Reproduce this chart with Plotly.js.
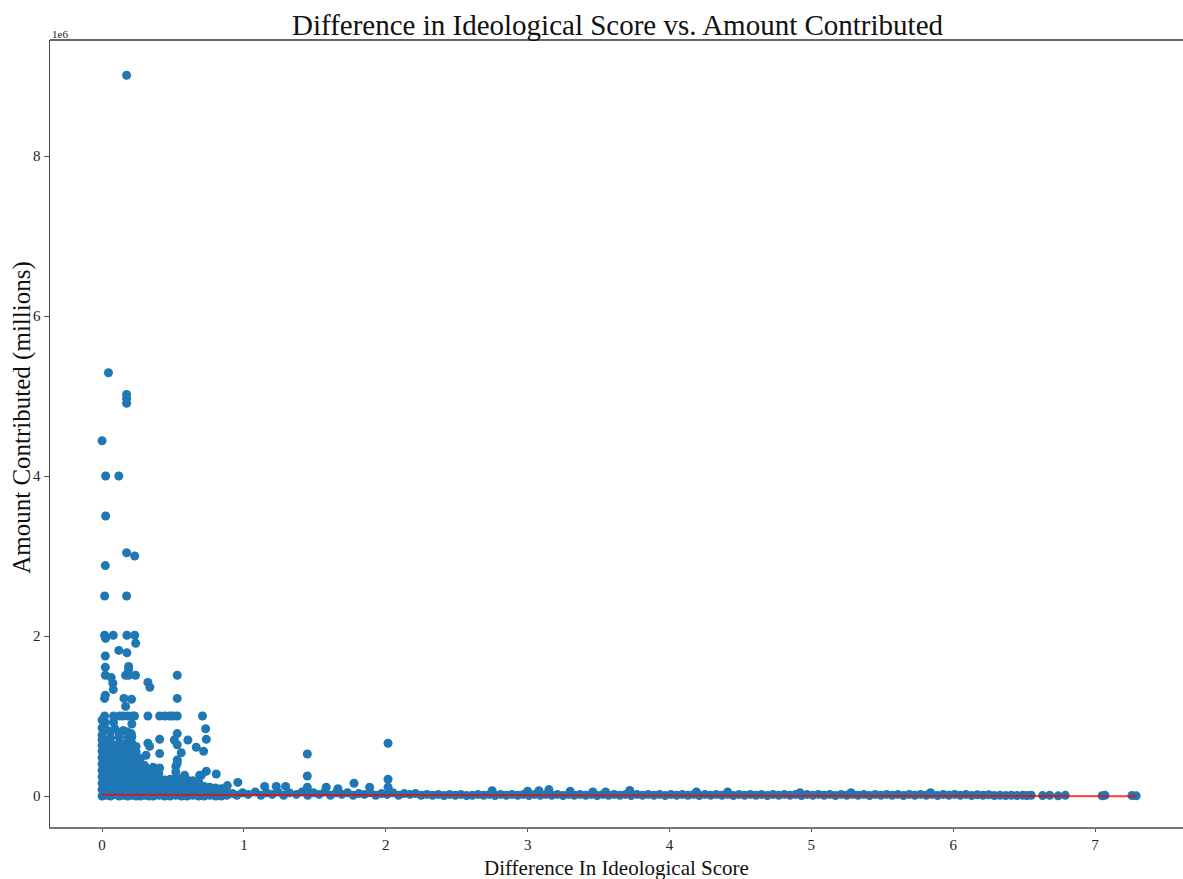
<!DOCTYPE html>
<html>
<head>
<meta charset="utf-8">
<script src="https://cdn.plot.ly/plotly-3.0.1.min.js"></script>
<style>html,body{margin:0;padding:0;background:#fff;}#chart{width:1183px;height:879px;}</style>
</head>
<body>
<div id="chart"></div>
<script>
// Amounts are in millions of dollars (axis shows 1e6 multiplier)
// Dense cluster near zero difference
const blobX = [
  0,0,0,0,0,0,0,0,0,0,0,
  0.03,0.03,0.03,0.03,0.03,0.03,0.03,0.03,0.03,0.03,
  0.06,0.06,0.06,0.06,0.06,0.06,0.06,0.06,0.06,0.06,
  0.09,0.09,0.09,0.09,0.09,0.09,0.09,0.09,0.09,
  0.12,0.12,0.12,0.12,0.12,0.12,0.12,0.12,0.12,0.12,
  0.15,0.15,0.15,0.15,0.15,0.15,0.15,0.15,0.15,
  0.18,0.18,0.18,0.18,0.18,0.18,0.18,0.18,0.18,0.18,
  0.21,0.21,0.21,0.21,0.21,0.21,0.21,0.21,0.21,0.21,
  0.24,0.24,0.24,0.24,0.24,0.24,0.24,0.24,0.24,
  0.27,0.27,0.27,0.27,0.27,0.27,0.27,
  0.30,0.30,0.30,0.30,0.30,0.30,
  0.33,0.33,0.33,0.33,0.33,
  0.36,0.36,0.36,0.36,0.36,0.36,
  0.40,0.40,0.40,0.40,0.40,
  0.44,0.44,0.44,0.44,
  0.48,0.48,0.48,0.48,
  0.52,0.52,0.52,0.52,0.52,0.52,
  0.56,0.56,0.56,0.56,
  0.60,0.60,0.60,0.60,
  0.64,0.64,0.64,0.64,
  0.68,0.68,0.68,0.68,
  0.72,0.72,0.72,
  0.76,0.76,0.76,
  0.80,0.80,0.80,
  0.84,0.84,0.84,
  0.88,0.88
];
const blobY = [
  0,0.08,0.16,0.24,0.32,0.40,0.48,0.56,0.63,0.70,0.76,
  0.01,0.09,0.17,0.25,0.33,0.41,0.49,0.55,0.62,0.70,
  0,0.08,0.15,0.23,0.31,0.39,0.47,0.55,0.64,0.72,
  0.02,0.07,0.15,0.23,0.31,0.40,0.48,0.56,0.63,
  0,0.08,0.16,0.24,0.33,0.41,0.50,0.58,0.66,0.74,
  0.01,0.08,0.16,0.25,0.33,0.42,0.50,0.58,0.65,
  0,0.08,0.16,0.24,0.32,0.40,0.48,0.57,0.65,0.73,
  0.01,0.08,0.16,0.24,0.32,0.40,0.49,0.57,0.66,0.74,
  0,0.08,0.16,0.24,0.32,0.40,0.47,0.55,0.62,
  0,0.08,0.16,0.24,0.32,0.40,0.47,
  0.01,0.08,0.16,0.24,0.31,0.38,
  0,0.08,0.15,0.22,0.30,
  0,0.07,0.14,0.22,0.30,0.36,
  0.01,0.07,0.14,0.21,0.28,
  0,0.07,0.14,0.20,
  0,0.07,0.14,0.21,
  0.01,0.07,0.14,0.22,0.30,0.37,
  0,0.07,0.14,0.22,
  0,0.07,0.14,0.20,
  0.01,0.06,0.13,0.19,
  0,0.06,0.12,0.18,
  0,0.06,0.12,
  0.01,0.06,0.11,
  0,0.05,0.10,
  0,0.05,0.09,
  0.01,0.05
];
// Long low band of small contributions
const bandX = [
  0.92,0.95,0.99,1.03,1.08,1.12,1.16,1.20,1.24,1.28,1.32,1.37,1.41,1.45,1.49,1.53,1.57,1.61,1.65,1.69,
  1.73,1.77,1.81,1.85,1.89,1.93,1.97,2.01,2.05,2.09,2.13,2.17,2.21,2.25,2.29,2.33,2.37,2.41,2.45,2.49,
  2.53,2.57,2.61,2.65,2.69,2.73,2.77,2.81,2.85,2.89,2.93,2.97,3.01,3.05,3.09,3.13,3.17,3.21,3.25,3.29,
  3.33,3.37,3.41,3.45,3.49,3.53,3.57,3.61,3.65,3.69,3.73,3.77,3.81,3.85,3.89,3.93,3.97,4.01,4.05,4.09,
  4.13,4.17,4.21,4.25,4.29,4.33,4.37,4.41,4.45,4.49,4.53,4.57,4.61,4.65,4.69,4.73,4.77,4.81,4.85,4.89,
  4.93,4.97,5.01,5.05,5.09,5.13,5.17,5.21,5.25,5.29,5.33,5.37,5.41,5.45,5.49,5.53,5.57,5.61,5.65,5.69,
  5.73,5.77,5.81,5.85,5.89,5.93,5.97,6.01,6.05,6.09,6.13,6.17,6.21,6.25,6.29,6.33,6.37,6.41,6.45,6.49,
  6.52,6.55
];
const bandY = [
  0.03,0.01,0.04,0.02,0.05,0.01,0.04,0.02,0.05,0.01,0.04,0.02,0.05,0.01,0.04,0.02,0.05,0.01,0.04,0.02,
  0.04,0.01,0.03,0.02,0.04,0.01,0.03,0.02,0.04,0.01,0.03,0.02,0.03,0.01,0.02,0.01,0.02,0.005,0.02,0.01,
  0.02,0.005,0.01,0.02,0.01,0.02,0.005,0.02,0.01,0.02,0.01,0.02,0.005,0.02,0.01,0.02,0.01,0.02,0.005,0.02,
  0.01,0.02,0.01,0.02,0.005,0.02,0.01,0.02,0.01,0.02,0.005,0.02,0.01,0.02,0.01,0.02,0.005,0.02,0.01,0.02,
  0.01,0.02,0.005,0.02,0.01,0.02,0.01,0.02,0.005,0.02,0.01,0.02,0.01,0.02,0.005,0.02,0.01,0.02,0.01,0.02,
  0.005,0.02,0.01,0.02,0.01,0.02,0.005,0.02,0.01,0.02,0.01,0.02,0.005,0.02,0.01,0.02,0.01,0.02,0.005,0.02,
  0.01,0.02,0.01,0.02,0.005,0.02,0.01,0.02,0.01,0.02,0.005,0.015,0.01,0.015,0.005,0.01,0.005,0.01,0.005,0.01,
  0.005,0.01
];
// Larger individual contributions
const outlierX = [
  0.173,0.045,0.173,0.173,0.173,0.000,0.025,0.118,0.025,0.173,0.230,0.023,0.018,0.173,
  0.018,0.025,0.079,0.175,0.230,0.237,0.118,0.175,0.023,0.023,0.187,0.187,
  0.023,0.166,0.187,0.236,0.530,0.065,0.076,0.079,0.323,0.337,
  0.023,0.018,0.154,0.208,0.530,0.166,
  0.018,0.081,0.123,0.147,0.182,0.217,0.229,0.323,0.406,0.441,0.476,0.500,0.530,0.708,
  0.023,0.081,0.210,0.730,0.000,0.000,0.030,0.090,0.120,0.150,0.060,
  0.178,0.206,0.530,0.323,0.335,0.406,0.510,0.530,0.605,0.735,
  0.664,0.716,0.558,0.406,0.530,0.310,0.735,0.805,0.700,0.688,0.582,0.406,0.530,
  0.957,0.676,0.883,
  1.146,1.228,1.294,1.580,1.663,1.447,1.447,1.447,1.776,1.886,2.016,2.016,2.016,
  2.750,3.000,3.080,3.150,3.300,3.460,3.550,3.720,4.190,4.410,4.920,5.280,5.840,
  6.630,6.680,6.740,6.790,7.050,7.070,7.260,7.290
];
const outlierY = [
  9.01,5.29,5.02,4.97,4.91,4.44,4.00,4.00,3.50,3.04,3.00,2.88,2.50,2.50,
  2.01,1.97,2.01,2.01,2.01,1.91,1.82,1.79,1.75,1.61,1.62,1.58,
  1.51,1.51,1.51,1.51,1.51,1.48,1.41,1.33,1.42,1.36,
  1.26,1.22,1.22,1.21,1.22,1.12,
  1.00,1.00,1.00,1.00,1.00,1.00,1.00,1.00,1.00,1.00,1.00,1.00,1.00,1.00,
  0.92,0.92,0.90,0.84,0.85,0.95,0.83,0.84,0.79,0.82,0.80,
  0.80,0.78,0.78,0.66,0.62,0.71,0.70,0.64,0.70,0.71,
  0.61,0.56,0.54,0.53,0.45,0.51,0.31,0.275,0.26,0.26,0.26,0.35,0.41,
  0.17,0.17,0.13,
  0.12,0.12,0.12,0.11,0.09,0.525,0.25,0.11,0.16,0.11,0.66,0.21,0.11,
  0.066,0.06,0.066,0.08,0.06,0.05,0.05,0.07,0.05,0.05,0.04,0.04,0.04,
  0.005,0.01,0.002,0.008,0.003,0.008,0.006,0.002
];
// Fitted regression line
const fitX = [0, 7.29];
const fitY = [0.016, -0.002];

const xTicks = [0,1,2,3,4,5,6,7];
const xTickText = ['0','1','2','3','4','5','6','7'];
const yTicks = [0,2,4,6,8];
const yTickText = ['0','2','4','6','8'];

const serif = 'Liberation Serif, Times New Roman, serif';

const scatter = {
  type: 'scatter', mode: 'markers',
  x: blobX.concat(bandX, outlierX),
  y: blobY.concat(bandY, outlierY),
  marker: {color: '#1f77b4', size: 9, line: {width: 0}},
  hoverinfo: 'x+y', showlegend: false
};
const fit = {
  type: 'scatter', mode: 'lines', x: fitX, y: fitY,
  line: {color: 'rgba(255,0,0,0.75)', width: 2},
  showlegend: false
};

const layout = {
  width: 1183, height: 879,
  margin: {l: 50, r: 0, t: 40, b: 52},
  paper_bgcolor: '#fff', plot_bgcolor: '#fff',
  font: {family: serif, color: '#222'},
  title: {text: 'Difference in Ideological Score vs. Amount Contributed',
          font: {family: serif, size: 29, color: '#111'},
          x: 0.522, xanchor: 'center', y: 0.972, yanchor: 'middle'},
  xaxis: {range: [-0.367, 7.62], tickvals: xTicks, ticktext: xTickText,
          showgrid: false, zeroline: false, showline: true, linecolor: '#777', linewidth: 1.5,
          ticks: 'outside', ticklen: 3, tickcolor: '#555',
          tickfont: {family: serif, size: 15, color: '#222'}},
  yaxis: {range: [-0.3875, 9.45], tickvals: yTicks, ticktext: yTickText,
          showgrid: false, zeroline: false, showline: true, linecolor: '#444', linewidth: 1.5,
          ticks: 'outside', ticklen: 5, tickcolor: '#555', tickfont: {family: serif, size: 15, color: '#222'}},
  shapes: [{type: 'line', xref: 'paper', yref: 'paper', x0: 0, x1: 1, y0: 1, y1: 1,
            line: {color: '#333', width: 1.5}}],
  annotations: [
    {text: 'Difference In Ideological Score', xref: 'paper', yref: 'paper',
     x: 0.5, y: -0.0518, xanchor: 'center', yanchor: 'middle', showarrow: false,
     font: {family: serif, size: 21, color: '#111'}},
    {text: 'Amount Contributed (millions)', xref: 'paper', yref: 'paper',
     x: -0.0247, y: 0.52, xanchor: 'center', yanchor: 'middle', textangle: -90, showarrow: false,
     font: {family: serif, size: 25, color: '#111'}},
    {text: '1e6', xref: 'paper', yref: 'paper', x: 0.0, y: 1.0076,
     xanchor: 'left', yanchor: 'middle', showarrow: false,
     font: {family: serif, size: 11, color: '#222'}}
  ]
};

Plotly.newPlot('chart', [scatter, fit], layout, {displayModeBar: false, staticPlot: true});
</script>
</body>
</html>
